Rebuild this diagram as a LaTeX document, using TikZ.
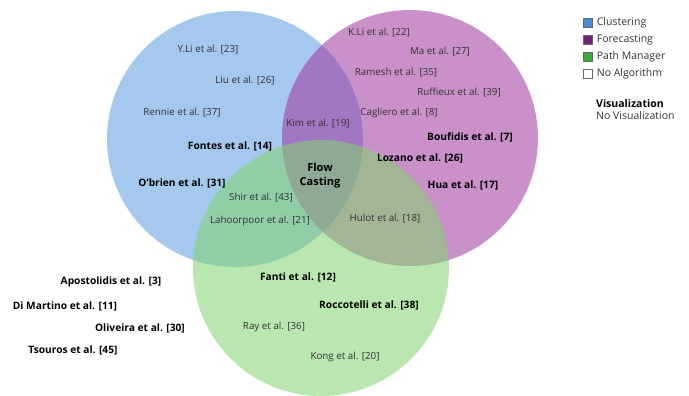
\documentclass[tikz,border=0pt]{standalone}
\usepackage{fontspec}
\setmainfont{Open Sans}
\usetikzlibrary{positioning}
\definecolor{clustblue}{RGB}{91, 155, 225}
\definecolor{forepurple}{RGB}{158, 52, 158}
\definecolor{pathgreen}{RGB}{130, 212, 110}
\definecolor{legblue}{RGB}{70, 140, 215}
\definecolor{legpurple}{RGB}{120, 30, 120}
\definecolor{leggreen}{RGB}{60, 170, 60}
\definecolor{txtgrey}{RGB}{50, 50, 50}

\begin{document}
\begin{tikzpicture}[x=1pt, y=-1pt,
        venn/.style={fill opacity=0.55},
        ref/.style={font=\fontsize{9.8}{11}\selectfont, text=txtgrey, inner sep=1pt},
        bref/.style={ref, font=\fontsize{10.2}{11}\selectfont\bfseries, text=black},
        legsq/.style={draw=black!60, line width=0.3pt, minimum size=9pt, inner sep=0pt},
        legtxt/.style={ref, font=\fontsize{10.5}{12}\selectfont, right=3pt, anchor=west}
      ]
        \useasboundingbox (0,0) rectangle (689,396);
        % the three sets
        \fill[venn, clustblue] (235,139) circle (128);
        \fill[venn, forepurple] (410,138) circle (128);
        \fill[venn, pathgreen, fill opacity=0.55] (321,268) circle (128);

        % clustering
        \node[ref] (yli) at (208,50) {Y.Li et al. [23]};
        \node[ref] (liu) at (245,81) {Liu et al. [26]};
        \node[ref] (rennie) at (182,113) {Rennie et al. [37]};
        \node[bref] (fontes) at (230,146) {Fontes et al. [14]};
        \node[bref] (obrien) at (182,183) {O'brien et al. [31]};
        \node[ref] (kim) at (318,124) {Kim et al. [19]};

        % forecasting
        \node[ref] (kli) at (379,33) {K.Li et al. [22]};
        \node[ref] (ma) at (440,52) {Ma et al. [27]};
        \node[ref] (ramesh) at (396,73) {Ramesh et al. [35]};
        \node[ref] (ruffieux) at (459,93) {Ruffieux et al. [39]};
        \node[ref] (cagliero) at (399,113) {Cagliero et al. [8]};
        \node[bref] (boufidis) at (470,137) {Boufidis et al. [7]};
        \node[bref] (lozano) at (420,158) {Lozano et al. [26]};
        \node[bref] (hua) at (463,185) {Hua et al. [17]};

        % centre and overlaps
        \node[bref, align=center, font=\fontsize{11}{14}\selectfont\bfseries] (flow) at (320,176) {Flow\\Casting};
        \node[ref] (shir) at (261,198) {Shir et al. [43]};
        \node[ref] (lahoorpoor) at (260,221) {Lahoorpoor et al. [21]};
        \node[ref] (hulot) at (385,219) {Hulot et al. [18]};

        % path manager
        \node[bref] (fanti) at (298,277) {Fanti et al. [12]};
        \node[bref] (roccotelli) at (369,305) {Roccotelli et al. [38]};
        \node[ref] (ray) at (274,327) {Ray et al. [36]};
        \node[ref] (kong) at (345,357) {Kong et al. [20]};

        % no algorithm
        \node[bref] (apostolidis) at (111,282) {Apostolidis et al. [3]};
        \node[bref] (dimartino) at (65,306) {Di Martino et al. [11]};
        \node[bref] (oliveira) at (140,328) {Oliveira et al. [30]};
        \node[bref] (tsouros) at (73,350) {Tsouros et al. [45]};

        % legend
        \node[legsq, fill=legblue] (sqclust) at (588,23) {};
        \node[legsq, fill=legpurple] (sqfore) at (588,40) {};
        \node[legsq, fill=leggreen] (sqpath) at (588,57) {};
        \node[legsq, fill=white] (sqnone) at (588,74) {};
        \node[legtxt] at (sqclust.east) {Clustering};
        \node[legtxt] at (sqfore.east) {Forecasting};
        \node[legtxt] at (sqpath.east) {Path Manager};
        \node[legtxt] at (sqnone.east) {No Algorithm};
        \node[bref, anchor=west, font=\fontsize{10.5}{12}\selectfont\bfseries] (vis) at (595,104) {Visualization};
        \node[ref, font=\fontsize{10.5}{12}\selectfont, below=1pt of vis.south west, anchor=north west] (novis) {No Visualization};
      \end{tikzpicture}
\end{document}
